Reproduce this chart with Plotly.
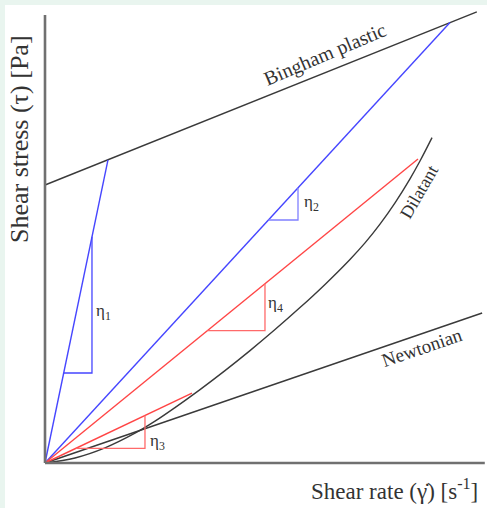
import plotly.graph_objects as go

# ---- data (arbitrary units: shear rate 0-100, shear stress 0-100) ----
bingham_x = [0, 97.7]
bingham_y = [60.7, 98.5]

newton_x = [0, 98.9]
newton_y = [0, 32.75]

dil_x = [0, 6.79, 13.57, 20.36, 24.89, 29.41, 35.07, 40.72, 46.38, 52.04, 57.69,
         63.35, 69.00, 72.40, 75.79, 79.19, 82.58, 84.84, 87.56]
dil_y = [0, 1.1, 3.3, 6.5, 9.13, 12.10, 16.03, 20.17, 24.54, 29.13, 33.93,
         39.00, 44.45, 48.06, 52.16, 56.81, 62.05, 65.94, 71.05]

eta1_x = [0, 14.25]
eta1_y = [0, 66.2]
eta2_x = [0, 91.63]
eta2_y = [0, 96.16]
eta4_x = [0, 84.39]
eta4_y = [0, 66.38]
eta3_x = [0, 33.26]
eta3_y = [0, 15.28]

tri1_x = [4.23, 10.63, 10.63]
tri1_y = [19.65, 19.65, 49.39]
tri2_x = [50.56, 57.24, 57.24]
tri2_y = [53.06, 53.06, 60.07]
tri4_x = [36.73, 49.77, 49.77]
tri4_y = [28.89, 28.89, 39.15]
tri3_x = [6.99, 22.62, 22.62]
tri3_y = [3.21, 3.21, 10.39]

eta_labels = ["η<sub>1</sub>", "η<sub>2</sub>", "η<sub>4</sub>", "η<sub>3</sub>"]
eta_label_x = [11.1, 58.1, 50.0, 23.2]
eta_label_y = [33.0, 56.8, 34.7, 4.6]

curve_names = ["Bingham plastic", "Dilatant", "Newtonian"]
curve_label_x = [63.35, 84.6, 85.3]
curve_label_y = [89.1, 59.2, 25.3]
curve_label_angle = [-23, -60, -19]

x_title = "Shear rate (γ̇) [s<sup>-1</sup>]"
y_title = "Shear stress (τ) [Pa]"

axis_x_end = 99.5
axis_y_end = 97.8

# ---- styles ----
BLACK = "#3a3a3a"
BLUE = "#4646ff"
BLUE_L = "#8080ff"
RED = "#ff4545"
RED_L = "#ff6a6a"
TXT = "#333333"
FONT = "Liberation Serif"

fig = go.Figure()

def line(x, y, color, width=1.4, shape="linear"):
    fig.add_trace(go.Scatter(x=x, y=y, mode="lines",
                             line=dict(color=color, width=width, shape=shape),
                             hoverinfo="skip", showlegend=False))

line(bingham_x, bingham_y, BLACK)
line(newton_x, newton_y, BLACK)
line(dil_x, dil_y, BLACK, shape="spline")
line(eta1_x, eta1_y, BLUE)
line(eta2_x, eta2_y, BLUE)
line(eta4_x, eta4_y, RED)
line(eta3_x, eta3_y, RED)
line(tri1_x, tri1_y, BLUE, 1.3)
line(tri2_x, tri2_y, BLUE_L, 1.3)
line(tri4_x, tri4_y, RED_L, 1.3)
line(tri3_x, tri3_y, RED_L, 1.3)

annotations = []
for t, x, y in zip(eta_labels, eta_label_x, eta_label_y):
    annotations.append(dict(x=x, y=y, xref="x", yref="y", text=t, showarrow=False,
                            xanchor="left", yanchor="middle",
                            font=dict(family=FONT, size=17, color=TXT)))
curve_sizes = [20, 18, 19]
for t, x, y, a, s in zip(curve_names, curve_label_x, curve_label_y, curve_label_angle, curve_sizes):
    annotations.append(dict(x=x, y=y, xref="x", yref="y", text=t, showarrow=False,
                            textangle=a, xanchor="center", yanchor="middle",
                            font=dict(family=FONT, size=s, color=TXT)))
annotations.append(dict(x=0.792, y=-0.0475, xref="paper", yref="paper", text=x_title,
                        showarrow=False, xanchor="center", yanchor="middle",
                        font=dict(family=FONT, size=23, color=TXT)))
annotations.append(dict(x=-0.0447, y=0.7106, xref="paper", yref="paper", text=y_title,
                        showarrow=False, textangle=-90, xanchor="center", yanchor="middle",
                        font=dict(family=FONT, size=26, color=TXT)))

shapes = [
    # page border strips (mint) - top and left
    dict(type="rect", xref="paper", yref="paper", x0=-0.2, x1=1.2, y0=1.0, y1=1.1,
         fillcolor="#e9f5ef", line=dict(width=0), layer="below"),
    dict(type="rect", xref="paper", yref="paper", x0=-0.2, x1=-35 / 447, y0=-0.2, y1=1.1,
         fillcolor="#e9f5ef", line=dict(width=0), layer="below"),
    # axes
    dict(type="line", xref="x", yref="y", x0=0, y0=0, x1=0, y1=axis_y_end,
         line=dict(color="#707070", width=2.6)),
    dict(type="line", xref="x", yref="y", x0=0, y0=0, x1=axis_x_end, y1=0,
         line=dict(color="#707070", width=2.6)),
]

fig.update_layout(
    width=487, height=508,
    margin=dict(l=40, r=0, t=5, b=40),
    paper_bgcolor="white", plot_bgcolor="white",
    xaxis=dict(range=[-1.131, 100], visible=False, fixedrange=True),
    yaxis=dict(range=[-1.092, 100], visible=False, fixedrange=True),
    annotations=annotations, shapes=shapes,
    showlegend=False,
)

fig.write_html("out.html", config={"displayModeBar": False},
               post_script="document.body.style.margin='0';document.body.style.overflow='hidden';")
